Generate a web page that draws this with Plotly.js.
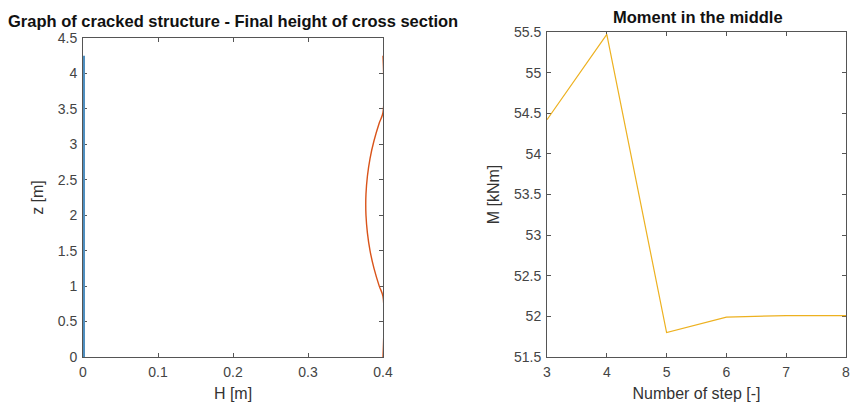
<!DOCTYPE html>
<html>
<head>
<meta charset="utf-8">
<script src="https://cdn.plot.ly/plotly-3.0.1.min.js"></script>
<style>html,body{margin:0;padding:0;background:#fff}#chart{width:854px;height:404px}</style>
</head>
<body>
<div id="chart"></div>
<script>
// Left panel: cracked structure
const blueH = [0, 0];
const blueZ = [0, 4.25];
const redH = [0.4, 0.4, 0.395, 0.388, 0.3827, 0.3792, 0.3773, 0.377, 0.3773, 0.3792, 0.3827, 0.388, 0.395, 0.4, 0.4];
const redZ = [0, 0.85, 1.0, 1.25, 1.5, 1.75, 2.0, 2.15, 2.3, 2.55, 2.8, 3.05, 3.3, 3.45, 4.25];
// Right panel: moment in the middle
const steps = [3, 4, 5, 6, 7, 8];
const moment = [54.42, 55.47, 51.8, 51.99, 52.01, 52.01];

const leftTitle = 'Graph of cracked structure - Final height of cross section';
const rightTitle = 'Moment in the middle';

const fontFam = 'Liberation Sans, Arial, sans-serif';
const axisCommon = {
  showline: true, linecolor: '#555', linewidth: 1, mirror: 'ticks',
  ticks: 'inside', ticklen: 4, tickcolor: '#555', layer: 'below traces',
  showgrid: false, zeroline: false,
  tickfont: {family: fontFam, size: 14, color: '#444'},
  fixedrange: true
};
const titleFont = {family: fontFam, size: 16, color: '#333'};

const data = [
  {x: blueH, y: blueZ, xaxis: 'x', yaxis: 'y', mode: 'lines', line: {color: '#4f8fc0', width: 4}, hoverinfo: 'skip'},
  {x: redH, y: redZ, xaxis: 'x', yaxis: 'y', mode: 'lines', line: {color: '#d95319', width: 1.4, shape: 'spline'}, hoverinfo: 'skip'},
  {x: steps, y: moment, xaxis: 'x2', yaxis: 'y2', mode: 'lines', line: {color: '#edb120', width: 1.2}, hoverinfo: 'skip'}
];

const layout = {
  width: 854, height: 404,
  margin: {l: 0, r: 0, t: 0, b: 0},
  paper_bgcolor: '#fff', plot_bgcolor: '#fff',
  showlegend: false,
  font: {family: fontFam, color: '#333'},
  xaxis: Object.assign({}, axisCommon, {
    domain: [83/854, 383/854], range: [0, 0.4], tickvals: [0, 0.1, 0.2, 0.3, 0.4],
    ticktext: ['0', '0.1', '0.2', '0.3', '0.4'], ticklabelstandoff: 2,
    title: {text: 'H [m]', font: titleFont, standoff: 9}
  }),
  yaxis: Object.assign({}, axisCommon, {
    domain: [1 - 357/404, 1 - 38/404], range: [0, 4.5], anchor: 'x',
    tickvals: [0, 0.5, 1, 1.5, 2, 2.5, 3, 3.5, 4, 4.5],
    ticktext: ['0', '0.5', '1', '1.5', '2', '2.5', '3', '3.5', '4', '4.5'], ticklabelstandoff: 2,
    title: {text: 'z [m]', font: titleFont, standoff: 10}
  }),
  xaxis2: Object.assign({}, axisCommon, {
    domain: [547/854, 846/854], range: [3, 8], anchor: 'y2',
    tickvals: [3, 4, 5, 6, 7, 8], ticklabelstandoff: 2,
    title: {text: 'Number of step [-]', font: titleFont, standoff: 9}
  }),
  yaxis2: Object.assign({}, axisCommon, {
    domain: [1 - 357/404, 1 - 32/404], range: [51.5, 55.5], anchor: 'x2',
    tickvals: [51.5, 52, 52.5, 53, 53.5, 54, 54.5, 55, 55.5],
    ticktext: ['51.5', '52', '52.5', '53', '53.5', '54', '54.5', '55', '55.5'], ticklabelstandoff: 2,
    title: {text: 'M [kNm]', font: titleFont, standoff: 10}
  }),
  annotations: [
    {text: '<b>' + leftTitle + '</b>', xref: 'paper', yref: 'paper', x: 233/854, y: 1 - 21/404,
     xanchor: 'center', yanchor: 'middle', showarrow: false, font: {family: fontFam, size: 16.5, color: '#111'}},
    {text: '<b>' + rightTitle + '</b>', xref: 'paper', yref: 'paper', x: 698/854, y: 1 - 17/404,
     xanchor: 'center', yanchor: 'middle', showarrow: false, font: {family: fontFam, size: 16.5, color: '#111'}}
  ]
};

Plotly.newPlot('chart', data, layout, {displayModeBar: false, staticPlot: true});
</script>
</body>
</html>
